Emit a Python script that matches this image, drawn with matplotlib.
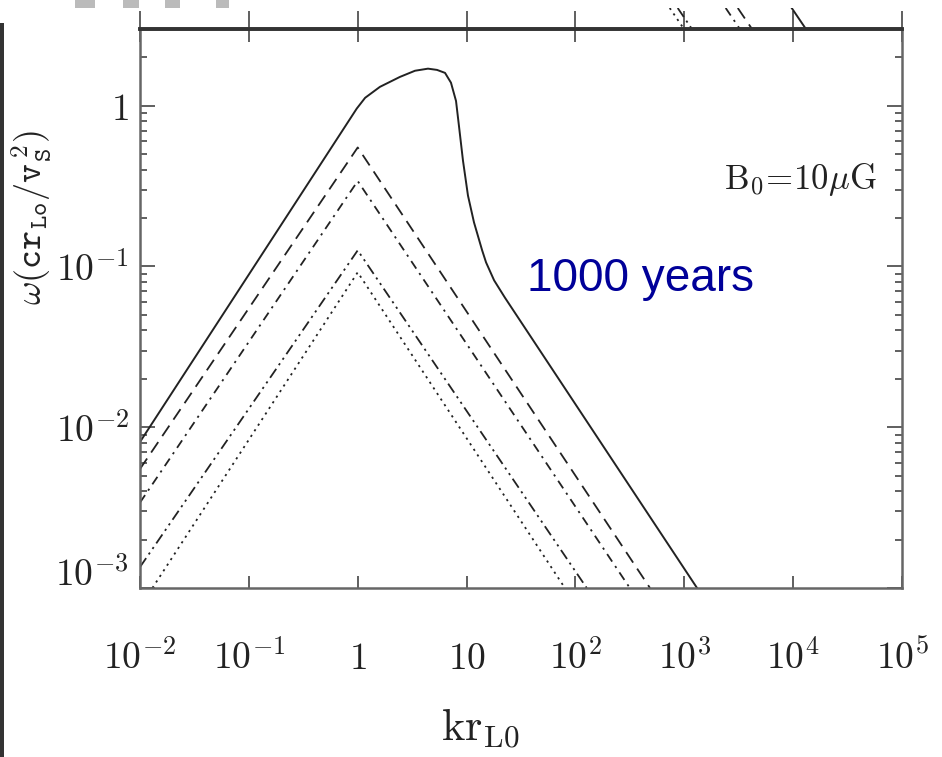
import matplotlib
matplotlib.use('Agg')
import matplotlib.pyplot as plt
from matplotlib.patches import Rectangle
from matplotlib.transforms import ScaledTranslation
from matplotlib.ticker import FixedLocator, LogLocator, NullLocator, NullFormatter

plt.rcParams['mathtext.fontset'] = 'cm'
plt.rcParams['font.family'] = 'DejaVu Serif'

'''------------------------------------DATA------------------------------------------'''

# solid curve (total)
k_solid = [0.01, 0.98, 1.17, 1.6, 2.44, 3.36, 4.42, 5.35, 6.34, 7.19, 8.0, 8.51, 9.27, 10.3,
           11.7, 13.9, 15.1, 17.9, 22.5, 1310]
w_solid = [0.0081, 0.96, 1.12, 1.31, 1.51, 1.65, 1.70, 1.67, 1.60, 1.39, 1.07, 0.75, 0.455, 0.276,
           0.188, 0.126, 0.106, 0.082, 0.064, 0.001]

# the four broken curves: left end, peak at k=1, right end
k_dash = [0.01, 1.0, 484]
w_dash = [0.0055, 0.55, 0.001]
k_dashdot = [0.01, 1.0, 316]
w_dashdot = [0.0034, 0.34, 0.001]
k_dashdots = [0.01, 1.0, 127]
w_dashdots = [0.00135, 0.126, 0.001]
k_dot = [0.013, 1.0, 80]
w_dot = [0.001, 0.092, 0.001]

# tails of the panel above (only a sliver is visible)
k_up_dot = [735, 993]
k_up_dashdots = [870, 1175]
k_up_dashdot = [2400, 3240]
k_up_dash = [3100, 4190]
k_up_solid = [9700, 13100]
w_up = [1.35e-3, 1.0e-3]

x_ticks = [1e-2, 1e-1, 1, 10, 1e2, 1e3, 1e4, 1e5]
x_ticklabels = ['$10^{-2}$', '$10^{-1}$', '$1$', '$10$', '$10^{2}$', '$10^{3}$', '$10^{4}$', '$10^{5}$']
y_ticks = [1e-3, 1e-2, 1e-1, 1]
y_ticklabels = ['$10^{-3}$', '$10^{-2}$', '$10^{-1}$', '$1$']

'''------------------------------------PLOT------------------------------------------'''

W, H = 942, 757
fig = plt.figure(figsize=(W / 100, H / 100), dpi=100)

ax = fig.add_axes([140 / W, 1 - 588 / H, 762 / W, 559 / H])
ax_up = fig.add_axes([140 / W, 1 - 29 / H, 762 / W, 21 / H])

lc = '#222222'
style_dash = (0, (7, 4))
style_dashdot = (0, (5, 3, 1.2, 3))
style_dashdots = (0, (6, 2.5, 1.2, 2.5, 1.2, 2.5))
style_dot = (0, (1.2, 2.5))

ax.plot(k_solid, w_solid, color=lc, lw=1.4, ls='-')
ax.plot(k_dash, w_dash, color=lc, lw=1.3, ls=style_dash)
ax.plot(k_dashdot, w_dashdot, color=lc, lw=1.3, ls=style_dashdot)
ax.plot(k_dashdots, w_dashdots, color=lc, lw=1.3, ls=style_dashdots)
ax.plot(k_dot, w_dot, color=lc, lw=1.3, ls=style_dot)

ax_up.plot(k_up_dot, w_up, color=lc, lw=1.3, ls=style_dot)
ax_up.plot(k_up_dashdots, w_up, color=lc, lw=1.3, ls=style_dashdots)
ax_up.plot(k_up_dashdot, w_up, color=lc, lw=1.3, ls=style_dashdot)
ax_up.plot(k_up_dash, w_up, color=lc, lw=1.3, ls=style_dash)
ax_up.plot(k_up_solid, w_up, color=lc, lw=1.4, ls='-')

for a in (ax, ax_up):
    a.set_xscale('log')
    a.set_yscale('log')
    a.set_xlim(1e-2, 1e5)
ax.set_ylim(1e-3, 3)
ax_up.set_ylim(1e-3, 1.35e-3)

ax.xaxis.set_major_locator(FixedLocator(x_ticks))
ax.set_xticklabels(x_ticklabels)
ax.xaxis.set_minor_locator(NullLocator())
ax.yaxis.set_major_locator(FixedLocator(y_ticks))
ax.set_yticklabels(y_ticklabels)
ax.yaxis.set_minor_locator(LogLocator(base=10, subs=range(2, 10)))
ax.yaxis.set_minor_formatter(NullFormatter())

ax.tick_params(which='both', direction='in', top=True, right=True, colors='#444444', width=1.2)
ax.tick_params(axis='x', which='major', length=9, pad=58, labelsize=27, labelcolor='#222222')
ax.tick_params(axis='y', which='major', length=11, pad=8, labelsize=27, labelcolor='#222222')
ax.tick_params(axis='y', which='minor', length=5)
for lbl in ax.get_xticklabels():
    lbl.set_va('baseline')
# the 10^-3 label sits a little higher than its tick in the original
lbl0 = ax.get_yticklabels()[0]
lbl0.set_transform(lbl0.get_transform() + ScaledTranslation(0, 0.16, fig.dpi_scale_trans))

for s in ('left', 'right', 'bottom'):
    ax.spines[s].set_color('#666666')
    ax.spines[s].set_linewidth(1.8)
ax.spines['top'].set_color('#333333')
ax.spines['top'].set_linewidth(2.6)

ax_up.xaxis.set_major_locator(FixedLocator(x_ticks))
ax_up.xaxis.set_minor_locator(NullLocator())
ax_up.yaxis.set_major_locator(NullLocator())
ax_up.yaxis.set_minor_locator(NullLocator())
ax_up.tick_params(axis='x', which='major', direction='in', length=13, width=1.2, colors='#444444',
                  labelbottom=False)
for s in ('left', 'right', 'top'):
    ax_up.spines[s].set_visible(False)
ax_up.spines['bottom'].set_color('#333333')
ax_up.spines['bottom'].set_linewidth(2.6)
ax_up.patch.set_alpha(0)

# labels and annotations
fig.text(32 / W, 1 - 218 / H,
         r'$\omega(\mathtt{cr}_{\mathtt{Lo}}/\mathtt{v}_{\mathtt{S}}^{\,2})$',
         rotation=90, ha='center', va='center', fontsize=26, color='#222222')
fig.text(480 / W, 1 - 728 / H, r'$\mathrm{kr}_{\mathrm{L0}}$',
         ha='center', va='center', fontsize=32, color='#222222')
fig.text(800 / W, 1 - 180 / H, r'$\mathrm{B}_0\!=\!10\mu\mathrm{G}$',
         ha='center', va='center', fontsize=25, color='#222222')
fig.text(527 / W, 1 - 291 / H, '1000 years', family='Liberation Sans',
         ha='left', va='baseline', fontsize=33, color='#000099')

# scan artefacts: gray squares on top and dark strip on the left
for x0, x1 in [(75, 95), (123, 139), (165, 180), (216, 229)]:
    fig.patches.append(Rectangle((x0 / W, 1 - 8 / H), (x1 - x0) / W, 8 / H,
                                 transform=fig.transFigure, color='#bbbbbb', lw=0))
fig.patches.append(Rectangle((0, 0), 4 / W, 1 - 23 / H, transform=fig.transFigure,
                             color='#333333', lw=0))

fig.savefig('out.png', dpi=100)
